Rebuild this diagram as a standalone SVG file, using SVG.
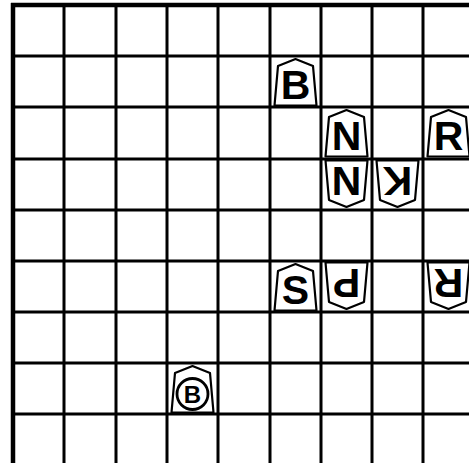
<svg xmlns="http://www.w3.org/2000/svg" width="469" height="463" viewBox="0 0 469 463">
<style>
.bg{fill:#fff}
.g{stroke:#000;stroke-width:3;fill:none}
.b{stroke:#000;stroke-width:4.5;fill:none}
.pc{fill:#fff;stroke:#000;stroke-width:2.2;stroke-linejoin:round}
.t{font-family:"Liberation Sans",Arial,sans-serif;font-weight:bold;font-size:41px;text-anchor:middle;fill:#000}
.ts{font-family:"Liberation Sans",Arial,sans-serif;font-weight:bold;font-size:24px;text-anchor:middle;fill:#000}
</style>
<defs>
<polygon id="piece" class="pc" points="25.5,3 43,10 46.5,49.5 4.5,49.5 8,10"/>
</defs>
<rect class="bg" x="0" y="0" width="469" height="463"/>
<g id="grid">
<line class="g" x1="64" y1="3" x2="64" y2="463"/>
<line class="g" x1="116" y1="3" x2="116" y2="463"/>
<line class="g" x1="167" y1="3" x2="167" y2="463"/>
<line class="g" x1="218" y1="3" x2="218" y2="463"/>
<line class="g" x1="270" y1="3" x2="270" y2="463"/>
<line class="g" x1="321" y1="3" x2="321" y2="463"/>
<line class="g" x1="372" y1="3" x2="372" y2="463"/>
<line class="g" x1="423" y1="3" x2="423" y2="463"/>
<line class="g" x1="11" y1="56" x2="469" y2="56"/>
<line class="g" x1="11" y1="107" x2="469" y2="107"/>
<line class="g" x1="11" y1="159" x2="469" y2="159"/>
<line class="g" x1="11" y1="210" x2="469" y2="210"/>
<line class="g" x1="11" y1="261" x2="469" y2="261"/>
<line class="g" x1="11" y1="312" x2="469" y2="312"/>
<line class="g" x1="11" y1="363" x2="469" y2="363"/>
<line class="g" x1="11" y1="414" x2="469" y2="414"/>
<line class="b" x1="13" y1="3" x2="13" y2="463"/>
<line class="b" x1="11" y1="5" x2="469" y2="5"/>
</g>
<g id="bishop-1" transform="translate(270,56)"><use href="#piece"/><text class="t" x="25.5" y="43">B</text></g>
<g id="knight-1" transform="translate(321,107)"><use href="#piece"/><text class="t" x="25.5" y="43">N</text></g>
<g id="rook-1" transform="translate(423,107)"><use href="#piece"/><text class="t" x="25.5" y="43">R</text></g>
<g id="knight-2" transform="translate(321,159) rotate(180 25.5 25.5)"><use href="#piece"/><text class="t" x="25.5" y="43">N</text></g>
<g id="king" transform="translate(372,159) rotate(180 25.5 25.5)"><use href="#piece"/><text class="t" x="25.5" y="43">K</text></g>
<g id="silver" transform="translate(270,261)"><use href="#piece"/><text class="t" x="25.5" y="43">S</text></g>
<g id="pawn" transform="translate(321,261) rotate(180 25.5 25.5)"><use href="#piece"/><text class="t" x="25.5" y="43">P</text></g>
<g id="rook-2" transform="translate(423,261) rotate(180 25.5 25.5)"><use href="#piece"/><text class="t" x="25.5" y="43">R</text></g>
<g id="bishop-2" transform="translate(167,363)"><use href="#piece"/><circle cx="25.5" cy="31" r="15.5" fill="none" stroke="#000" stroke-width="2.8"/><text class="ts" x="25.5" y="39.5">B</text></g>
</svg>
